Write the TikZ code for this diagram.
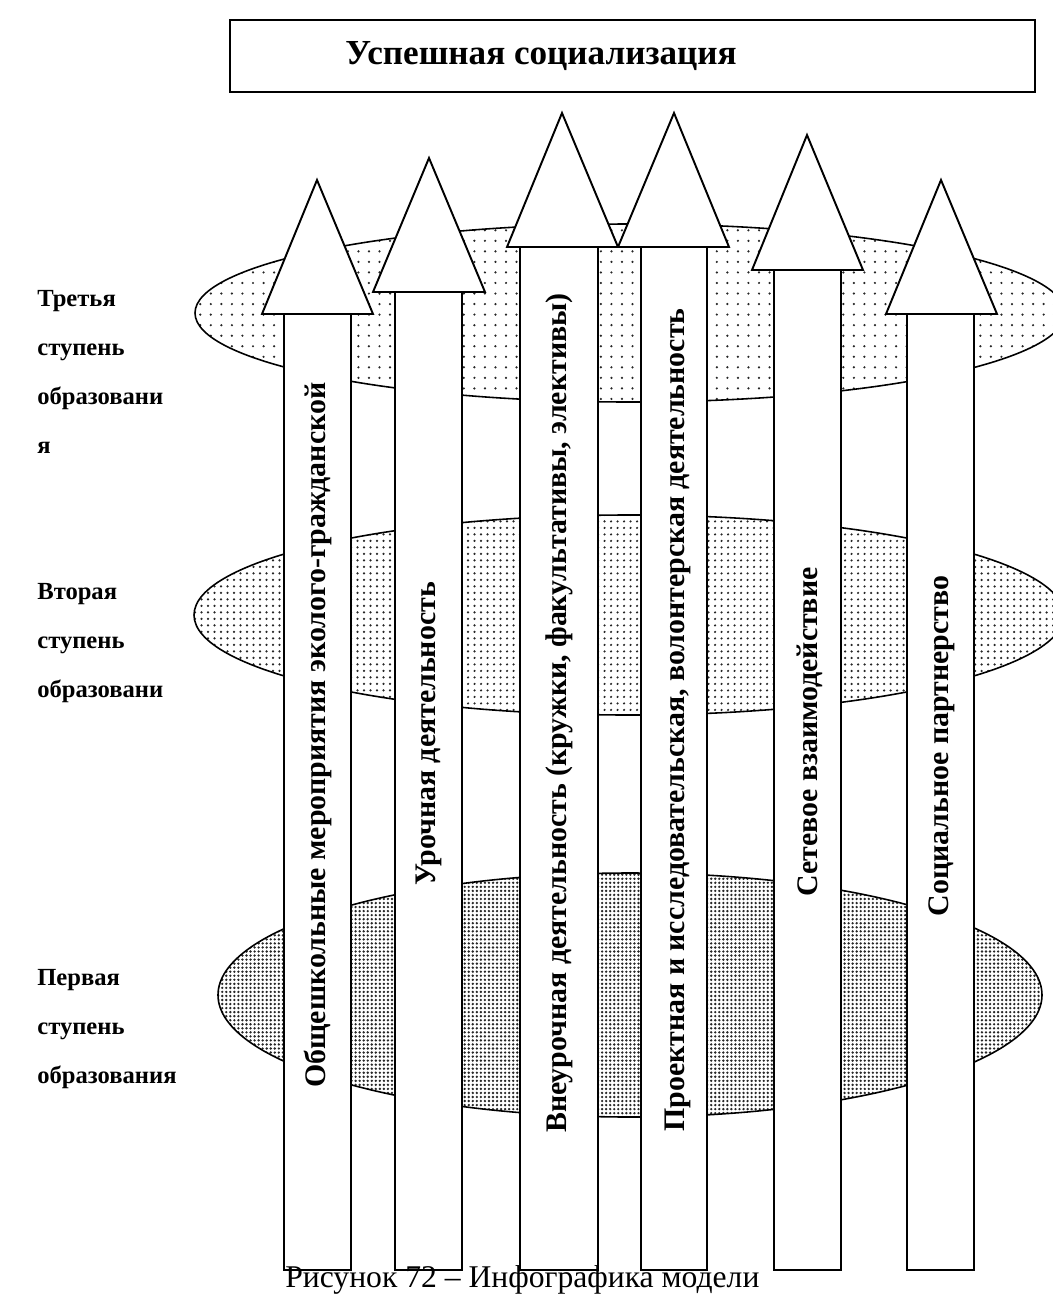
\documentclass[tikz,border=0pt]{standalone}
\usepackage{fontspec}
\setmainfont{Liberation Serif}
\usetikzlibrary{patterns.meta}

\begin{document}
\begin{tikzpicture}[x=0.02cm, y=-0.02cm,
    every node/.style={inner sep=0pt},
    levelring/.style={draw, line width=0.9pt, pattern color=black!85},
    shaft/.style={draw, line width=1.1pt, fill=white},
    stage/.style={anchor=base west, align=left, font=\fontsize{14}{27.8}\selectfont\bfseries},
    strand/.style={rotate=90, font=\fontsize{17}{20}\selectfont\bfseries}]
  \useasboundingbox (0,0) rectangle (1053,1295);

  % Goal box
  \draw[line width=1.1pt] (230,20) rectangle (1035,92);
  \node[anchor=base west, font=\fontsize{20}{24}\selectfont\bfseries] (goal) at (345,64) {Успешная социализация};

  % Levels of education
  \draw[levelring, pattern={Dots[distance=6pt, radius=0.7pt]}] (630,313) ellipse [x radius=435, y radius=89];
  \draw[levelring, pattern={Dots[distance=3.7pt, radius=0.7pt]}] (629,615) ellipse [x radius=435, y radius=100];
  \draw[levelring, pattern={Dots[distance=2.3pt, radius=0.75pt]}] (630,995) ellipse [x radius=412, y radius=122];

  \node[stage] (third) at (37,453) {Третья\\ступень\\образовани\\я};
  \node[stage] (second) at (37,697) {Вторая\\ступень\\образовани};
  \node[stage] (first) at (37,1083) {Первая\\ступень\\образования};

  % Arrow 1
  \draw[shaft] (284,314) rectangle (351,1270);
  \draw[shaft] (262,314) -- (317,180) -- (373,314) -- cycle;
  \node[strand] (schoolwide) at (317.5,735) {Общешкольные мероприятия эколого-гражданской};

  % Arrow 2
  \draw[shaft] (395,292) rectangle (462,1270);
  \draw[shaft] (373,292) -- (429,158) -- (485,292) -- cycle;
  \node[strand] (lessons) at (428.5,734) {Урочная деятельность};

  % Arrow 3
  \draw[shaft] (520,247) rectangle (598,1270);
  \draw[shaft] (507,247) -- (562,113) -- (618,247) -- cycle;
  \node[strand] (extra) at (559,713) {Внеурочная деятельность (кружки, факультативы, элективы)};

  % Arrow 4
  \draw[shaft] (641,247) rectangle (707,1270);
  \draw[shaft] (618,247) -- (674,113) -- (729,247) -- cycle;
  \node[strand] (projects) at (678,720) {Проектная и исследовательская, волонтерская деятельность};

  % Arrow 5
  \draw[shaft] (774,270) rectangle (841,1270);
  \draw[shaft] (752,270) -- (807,135) -- (863,270) -- cycle;
  \node[strand] (network) at (810,732) {Сетевое взаимодействие};

  % Arrow 6
  \draw[shaft] (907,314) rectangle (974,1270);
  \draw[shaft] (886,314) -- (941,180) -- (997,314) -- cycle;
  \node[strand] (partners) at (942,746) {Социальное партнерство};

  \node[anchor=base west, font=\fontsize{18}{22}\selectfont] (caption) at (285,1287) {Рисунок 72 – Инфографика модели};
\end{tikzpicture}
\end{document}
